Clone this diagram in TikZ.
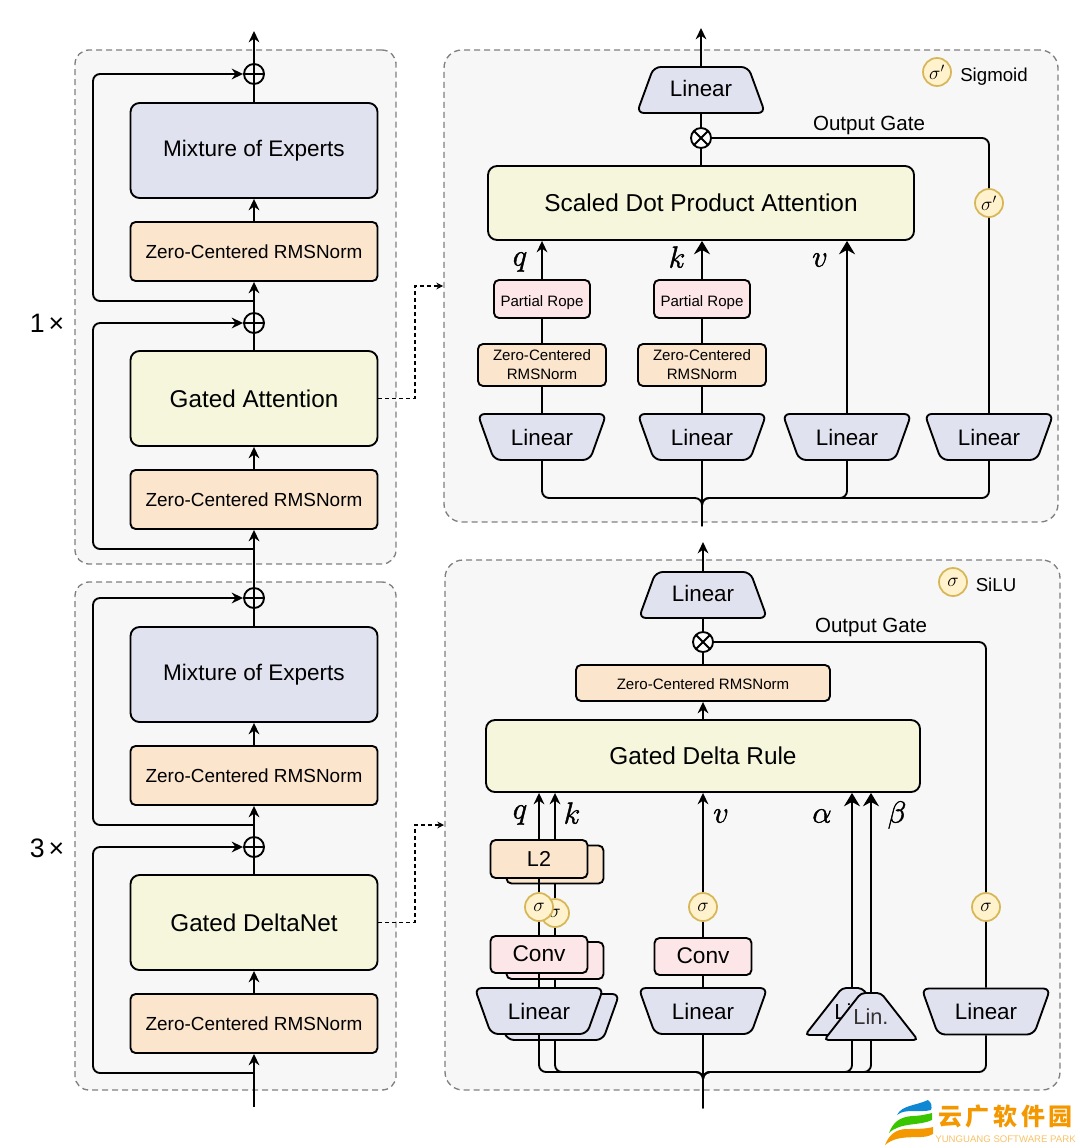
\documentclass[tikz,border=0pt]{standalone}
\usepackage{amsmath,amssymb}
\usepackage{fontspec}
\setmainfont{Liberation Sans}
\newfontfamily\cjk{Noto Sans CJK SC}
\usetikzlibrary{arrows.meta,shapes.geometric,positioning}
\newdimen\px
\px=0.75pt
\newcommand{\heavy}[1]{\special{pdf:code 2 Tr 0.35 w}#1\special{pdf:code 0 Tr}}
\definecolor{lavender}{HTML}{E1E2EF}
\definecolor{peach}{HTML}{FBE5CD}
\definecolor{cream}{HTML}{F6F6DC}
\definecolor{blush}{HTML}{FDE6E7}
\definecolor{panelgray}{HTML}{F7F7F7}
\definecolor{gatefill}{HTML}{FFF2CC}
\definecolor{gateline}{HTML}{D6B656}
\definecolor{brandorange}{HTML}{F39800}
\tikzset{
	block/.style={
		rectangle,
		rounded corners=5\px,
		draw=black, line width=1.4pt,
		inner sep=0pt,
		text centered,
		text=black,
	},
	panelbox/.style={
		rectangle,
		rounded corners=14\px,
		draw=black!50, line width=1pt,
		dash pattern=on 6\px off 4\px,
		fill=panelgray,
	},
	moebox/.style={block, fill=lavender, rounded corners=9\px, minimum width=247\px, minimum height=95\px, font=\fontsize{16.9}{20}\selectfont},
	gatedbox/.style={block, fill=cream, rounded corners=9\px, minimum width=247\px, minimum height=95\px, font=\fontsize{18.2}{22}\selectfont},
	normbox/.style={block, fill=peach, minimum width=247\px, minimum height=59\px, text height=13.2pt, text depth=3pt, font=\fontsize{14.2}{17}\selectfont},
	normsmall/.style={block, fill=peach, minimum width=128\px, minimum height=42\px, align=center, font=\fontsize{11.3}{14.2}\selectfont},
	rope/.style={block, fill=blush, minimum width=96\px, minimum height=38\px, text height=14pt, text depth=2.5pt, font=\fontsize{11.3}{14}\selectfont},
	convbox/.style={block, fill=blush, minimum width=97\px, minimum height=37\px, text depth=2pt, font=\fontsize{17}{20}\selectfont},
	lbox/.style={block, fill=peach, minimum width=97\px, minimum height=38\px, font=\fontsize{16.2}{20}\selectfont},
	lineardown/.style={
		trapezium, trapezium stretches=true, trapezium left angle=57, trapezium right angle=57,
		shape border rotate=180,
		rounded corners=7\px,
		draw=black, line width=1.4pt, fill=lavender, inner sep=0pt,
		minimum width=129\px, minimum height=46\px,
		font=\fontsize{16.8}{20}\selectfont,
	},
	linearup/.style={lineardown, shape border rotate=0, text depth=2.2pt, trapezium left angle=60, trapezium right angle=60},
	linsmall/.style={
		trapezium, trapezium stretches=true, trapezium left angle=28.4, trapezium right angle=28.4,
		rounded corners=4\px,
		draw=black, line width=1.4pt, fill=lavender, inner sep=0pt,
		minimum width=94\px, minimum height=47\px,
	},
	gate/.style={
		circle, draw=gateline, line width=1.3pt, fill=gatefill,
		inner sep=0pt, minimum size=28\px,
		font=\fontsize{14.4}{14.4}\selectfont,
	},
	oplusnode/.style={
		circle, draw=black, line width=1.4pt, inner sep=0pt, minimum size=20\px,
		path picture={\draw[line width=1.4pt] (path picture bounding box.north) -- (path picture bounding box.south) (path picture bounding box.west) -- (path picture bounding box.east);},
	},
	otimesnode/.style={
		circle, draw=black, line width=1.4pt, fill=white, inner sep=0pt, minimum size=20\px,
		path picture={\draw[line width=1.4pt] (path picture bounding box.north west) -- (path picture bounding box.south east) (path picture bounding box.north east) -- (path picture bounding box.south west);},
	},
	wire/.style={line width=1.4pt, >={Stealth[length=8.5pt,width=8pt]}},
	bigwire/.style={line width=1.4pt, >={Stealth[length=10pt,width=12pt]}},
	dashwire/.style={line width=1.1pt, dash pattern=on 4\px off 3\px, >={Stealth[length=5pt,width=5pt]}},
	mathlabel/.style={inner sep=0pt, scale=0.925, transform shape, font=\fontsize{24.88}{25}\selectfont},
	plainlabel/.style={inner sep=0pt, font=\fontsize{14}{17}\selectfont},
	repeatlabel/.style={inner sep=0pt, font=\fontsize{20}{22}\selectfont},
}

\begin{document}
\begin{tikzpicture}[x=0.75pt,y=-0.75pt]
\useasboundingbox (0,0) rectangle (1080,1148);

\node	(panelA)	[panelbox, minimum width=321\px, minimum height=514\px]	at (235.5,307)	{};
\node	(panelB)	[panelbox, minimum width=321\px, minimum height=508\px]	at (235.5,836)	{};
\node	(panelC)	[panelbox, rounded corners=18\px, minimum width=614\px, minimum height=472\px]	at (751,286)	{};
\node	(panelD)	[panelbox, rounded corners=18\px, minimum width=615\px, minimum height=530\px]	at (752.5,825)	{};

\node	(repeatA)	[repeatlabel]	at (47,323)	{1\hspace{3pt}×};
\node	(repeatB)	[repeatlabel]	at (47,848)	{3\hspace{3pt}×};

% left column, upper block
\node	(moeA)		[moebox]	at (254,150.5)	{Mixture of Experts};
\node	(normA)		[normbox]	at (254,251.5)	{Zero-Centered RMSNorm};
\node	(gatedA)	[gatedbox]	at (254,398.5)	{Gated Attention};
\node	(normB)		[normbox]	at (254,499.5)	{Zero-Centered RMSNorm};
\node	(oplusA)	[oplusnode]	at (254,74)	{};
\node	(oplusB)	[oplusnode]	at (254,323)	{};
\coordinate	(outA)		at (254,31);
\coordinate	(skipA)		at (254,301);
\coordinate	(railA)		at (93,74);
\coordinate	(skipB)		at (254,549);
\coordinate	(railB)		at (93,323);

% left column, lower block
\node	(moeB)		[moebox]	at (254,674.5)	{Mixture of Experts};
\node	(normC)		[normbox]	at (254,775.5)	{Zero-Centered RMSNorm};
\node	(gatedB)	[gatedbox]	at (254,922.5)	{Gated DeltaNet};
\node	(normD)		[normbox]	at (254,1023.5)	{Zero-Centered RMSNorm};
\node	(oplusC)	[oplusnode]	at (254,598)	{};
\node	(oplusD)	[oplusnode]	at (254,847)	{};
\coordinate	(inB)		at (254,1107);
\coordinate	(skipC)		at (254,825);
\coordinate	(railC)		at (93,598);
\coordinate	(skipD)		at (254,1073);
\coordinate	(railD)		at (93,847);

\path[wire, ->] (oplusA.north) edge (outA);
\path[wire] (moeA.north) edge (oplusA.south);
\path[wire, ->] (normA.north) edge (moeA.south);
\path[wire, ->] (oplusB.north) edge (normA.south);
\path[wire] (gatedA.north) edge (oplusB.south);
\path[wire, ->] (normB.north) edge (gatedA.south);
\path[wire, ->] (oplusC.north) edge (normB.south);
\path[wire] (moeB.north) edge (oplusC.south);
\path[wire, ->] (normC.north) edge (moeB.south);
\path[wire, ->] (oplusD.north) edge (normC.south);
\path[wire] (gatedB.north) edge (oplusD.south);
\path[wire, ->] (normD.north) edge (gatedB.south);
\path[wire, ->] (inB) edge (normD.south);
\draw[wire, ->, rounded corners=7\px] (skipA) -| (railA) -- (oplusA.west);
\draw[wire, ->, rounded corners=7\px] (skipB) -| (railB) -- (oplusB.west);
\draw[wire, ->, rounded corners=7\px] (skipC) -| (railC) -- (oplusC.west);
\draw[wire, ->, rounded corners=7\px] (skipD) -| (railD) -- (oplusD.west);

\coordinate	(dashA)		at (415,286);
\coordinate	(dashendA)	at (443,286);
\coordinate	(dashB)		at (415,825);
\coordinate	(dashendB)	at (444,825);
\draw[dashwire, ->] (gatedA.east) -| (dashA) -- (dashendA);
\draw[dashwire, ->] (gatedB.east) -| (dashB) -- (dashendB);

% attention panel
\node	(legendC)	[gate]	at (937,72)	{$\sigma'$};
\node	(legendtextC)	[plainlabel]	at (994,77)	{Sigmoid};
\node	(linoutC)	[linearup]	at (701,90)	{Linear};
\node	(otimesC)	[otimesnode]	at (701,138)	{};
\node	(attention)	[gatedbox, minimum width=426\px, minimum height=74\px, font=\fontsize{18.3}{22}\selectfont]	at (701,203)	{Scaled Dot Product Attention};
\node	(gatetextC)	[plainlabel, font=\fontsize{15.4}{18}\selectfont]	at (869,125)	{Output Gate};
\node	(sigmaC)	[gate]	at (989,203)	{$\sigma'$};
\node	(ropeqC)	[rope]	at (542,299)	{Partial Rope};
\node	(ropekC)	[rope]	at (702,299)	{Partial Rope};
\node	(normqC)	[normsmall]	at (542,365)	{Zero-Centered\\RMSNorm};
\node	(normkC)	[normsmall]	at (702,365)	{Zero-Centered\\RMSNorm};
\node	(linqC)		[lineardown]	at (542,437)	{Linear};
\node	(linkC)		[lineardown]	at (702,437)	{Linear};
\node	(linvC)		[lineardown]	at (847,437)	{Linear};
\node	(lingC)		[lineardown]	at (989,437)	{Linear};
\node	(qC)	[mathlabel]	at (520,262)	{\heavy{$q$}};
\node	(kC)	[mathlabel]	at (677,257)	{\heavy{$k$}};
\node	(vC)	[mathlabel]	at (820,260)	{\heavy{$v$}};
\coordinate	(outC)		at (701,28);
\coordinate	(busC)		at (702,498);
\coordinate	(rootC)		at (702,526);

\path[wire, ->] (linoutC.north) edge (outC);
\path[wire] (otimesC.north) edge (linoutC.south);
\path[wire] (attention.north) edge (otimesC.south);
\draw[wire, rounded corners=7\px] (sigmaC.north) |- (otimesC.east);
\path[wire] (lingC.north) edge (sigmaC.south);
\path[wire] (linqC.north) edge (normqC.south);
\path[wire] (normqC.north) edge (ropeqC.south);
\path[wire, ->] (ropeqC.north) edge (ropeqC.north |- attention.south);
\path[wire] (linkC.north) edge (normkC.south);
\path[wire] (normkC.north) edge (ropekC.south);
\path[bigwire, ->] (ropekC.north) edge (ropekC.north |- attention.south);
\path[bigwire, ->] (linvC.north) edge (linvC.north |- attention.south);
\path[wire] (linkC.south) edge (rootC);
\draw[wire, rounded corners=7\px] (linqC.south) |- (busC) -- (rootC);
\draw[wire, rounded corners=7\px] (linvC.south) |- (busC) -- (rootC);
\draw[wire, rounded corners=7\px] (lingC.south) |- (busC) -- (rootC);

% delta rule panel
\node	(legendD)	[gate]	at (953,582)	{$\sigma$};
\node	(legendtextD)	[plainlabel]	at (996,585)	{SiLU};
\node	(linoutD)	[linearup]	at (703,595)	{Linear};
\node	(otimesD)	[otimesnode]	at (703,642)	{};
\node	(normE)		[normsmall, minimum width=254\px, minimum height=36\px, text height=12pt, text depth=2.5pt]	at (703,683)	{Zero-Centered RMSNorm};
\node	(delta)		[gatedbox, minimum width=434\px, minimum height=72\px, font=\fontsize{18.3}{22}\selectfont]	at (703,756)	{Gated Delta Rule};
\node	(gatetextD)	[plainlabel, font=\fontsize{15.4}{18}\selectfont]	at (871,627)	{Output Gate};
\node	(sigmaD)	[gate]	at (986,907)	{$\sigma$};
\node	(lingD)		[lineardown]	at (986,1011.5)	{Linear};
\node	(linvD)		[lineardown]	at (703,1011)	{Linear};
\node	(convvD)	[convbox]	at (703,956.5)	{Conv};
\node	(sigmavD)	[gate]	at (703,907)	{$\sigma$};

% stacked q and k branches, the far one first
\node	(linkD)		[lineardown]	at (555,1017)	{\phantom{Linear}};
\node	(convkD)	[convbox]	at (555,960.5)	{};
\node	(sigmakD)	[gate]	at (555,913)	{$\sigma$};
\node	(lkD)		[lbox]	at (555,864.5)	{};
\path[wire] (linkD.north) edge (convkD.south);
\path[wire] (convkD.north) edge (sigmakD.south);
\path[wire] (sigmakD.north) edge (lkD.south);
\path[wire, ->] (lkD.north) edge (lkD.north |- delta.south);
\node	(linqD)		[lineardown]	at (539,1011)	{Linear};
\node	(convqD)	[convbox]	at (539,954.5)	{Conv};
\node	(sigmaqD)	[gate]	at (539,907)	{$\sigma$};
\node	(lqD)		[lbox]	at (539,859)	{L2};
\path[wire] (linqD.north) edge (convqD.south);
\path[wire] (convqD.north) edge (sigmaqD.south);
\path[wire] (sigmaqD.north) edge (lqD.south);
\path[wire, ->] (lqD.north) edge (lqD.north |- delta.south);

\coordinate	(outD)		at (703,542);
\coordinate	(busD)		at (703,1072);
\coordinate	(rootD)		at (703,1108);

% alpha and beta branches
\node	(linaD)		[linsmall, label={center:\fontsize{16.3}{20}\selectfont Lin.}]	at (852,1011.5)	{\phantom{\rule{10pt}{10pt}}};
\path[bigwire, ->] (linaD.north) edge (linaD.north |- delta.south);
\draw[wire, rounded corners=7\px] (linaD.south) |- (busD) -- (rootD);
\node	(linbD)		[linsmall, label={[text=black!80]center:\fontsize{16.3}{20}\selectfont Lin.}]	at (871,1016.5)	{\phantom{\rule{10pt}{10pt}}};
\path[bigwire, ->] (linbD.north) edge (linbD.north |- delta.south);
\draw[wire, rounded corners=7\px] (linbD.south) |- (busD) -- (rootD);

\node	(qD)	[mathlabel]	at (520,815)	{\heavy{$q$}};
\node	(kD)	[mathlabel]	at (572,813)	{\heavy{$k$}};
\node	(vD)	[mathlabel]	at (721,816)	{\heavy{$v$}};
\node	(aD)	[mathlabel]	at (822,816)	{\heavy{$\alpha$}};
\node	(bD)	[mathlabel]	at (897,815)	{\heavy{$\beta$}};

\path[wire, ->] (linoutD.north) edge (outD);
\path[wire] (otimesD.north) edge (linoutD.south);
\path[wire] (normE.north) edge (otimesD.south);
\path[wire, ->] (delta.north) edge (normE.south);
\draw[wire, rounded corners=7\px] (sigmaD.north) |- (otimesD.east);
\path[wire] (lingD.north) edge (sigmaD.south);
\path[wire] (linvD.north) edge (convvD.south);
\path[wire] (convvD.north) edge (sigmavD.south);
\path[wire, ->] (sigmavD.north) edge (sigmavD.north |- delta.south);
\path[wire] (linvD.south) edge (rootD);
\draw[wire, rounded corners=7\px] (linqD.south) |- (busD) -- (rootD);
\draw[wire, rounded corners=7\px] (linkD.south) |- (busD) -- (rootD);
\draw[wire, rounded corners=7\px] (lingD.south) |- (busD) -- (rootD);

% logo
\fill[cyan!70!blue] (897,1115) .. controls (902,1105) and (915,1106) .. (928,1100) .. controls (932,1103) and (932,1107) .. (931,1110) .. controls (920,1113) and (905,1108) .. (897,1115) -- cycle;
\fill[green!55!olive] (889,1133) .. controls (893,1122) and (900,1117) .. (912,1116) .. controls (920,1116) and (928,1114) .. (932,1113) -- (932,1120) .. controls (920,1126) and (900,1122) .. (889,1133) -- cycle;
\fill[brandorange] (885,1145) .. controls (889,1135) and (895,1130) .. (905,1129) .. controls (915,1129) and (926,1129) .. (933,1127) -- (933,1134) .. controls (922,1141) and (900,1132) .. (885,1145) -- cycle;
\node	(brandcn)	[inner sep=0pt, text=brandorange, font=\cjk\bfseries\fontsize{18}{18}\selectfont]	at (1005.5,1116)	{云\hspace{2.8pt}广\hspace{2.8pt}软\hspace{2.8pt}件\hspace{2.8pt}园};
\node	(branden)	[inner sep=0pt, text=brandorange!60, font=\fontsize{7.2}{8}\selectfont]	at (1005.5,1139)	{YUNGUANG SOFTWARE PARK};
\end{tikzpicture}
\end{document}
